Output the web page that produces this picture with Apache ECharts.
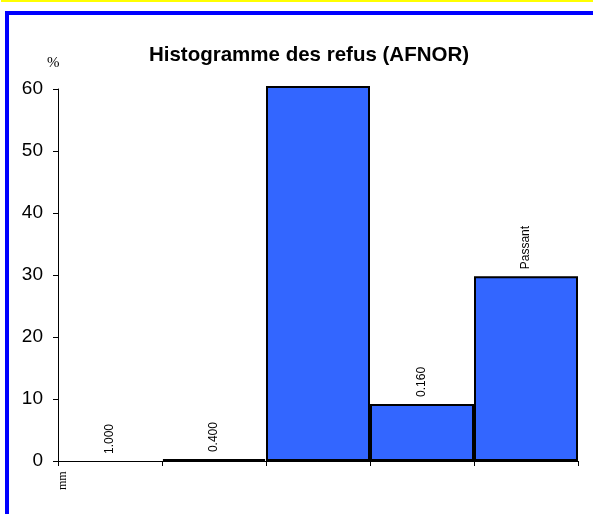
<!DOCTYPE html>
<html>
<head>
<meta charset="utf-8">
<script src="https://cdn.jsdelivr.net/npm/echarts@6/dist/echarts.min.js"></script>
<style>
html,body{margin:0;padding:0;background:#fff;}
#c{width:593px;height:514px;}
</style>
</head>
<body>
<div id="c"></div>
<script>
const categories = ['1.000', '0.400', '0.315', '0.160', 'Passant'];
const showLabel = [true, true, false, true, true];
const values = [0, 0.3, 60.5, 9.2, 29.8];
const yTicks = [0, 10, 20, 30, 40, 50, 60];

const chart = echarts.init(document.getElementById('c'));
const data = values.map((v, i) => ({
  value: v,
  itemStyle: v === 0 ? { borderWidth: 0 } : {},
  label: { show: showLabel[i] }
}));
chart.setOption({
  animation: false,
  backgroundColor: '#fff',
  title: {
    text: 'Histogramme des refus (AFNOR)',
    left: 304, top: 40, textAlign: 'center',
    textStyle: { fontFamily: 'Liberation Sans', fontSize: 20.5, fontWeight: 'bold', color: '#000' }
  },
  graphic: [
    { type: 'rect', shape: { x: 1, y: 0, width: 592, height: 2 }, style: { fill: '#ffff00' } },
    { type: 'rect', shape: { x: 5, y: 11, width: 588, height: 4 }, style: { fill: '#0000ff' } },
    { type: 'rect', shape: { x: 5, y: 11, width: 4, height: 503 }, style: { fill: '#0000ff' } },
    { type: 'text', left: 47, top: 56, style: { text: '%', font: '15px "Liberation Serif"', fill: '#000' } },
    { type: 'text', x: 57, y: 490, rotation: Math.PI / 2, style: { text: 'mm', font: '12px "Liberation Serif"', fill: '#000', textAlign: 'left', textVerticalAlign: 'top' } }
  ],
  grid: { left: 58, right: 15, top: 89, bottom: 53 },
  xAxis: {
    type: 'category', data: categories,
    axisLine: { lineStyle: { color: '#000', width: 1 } },
    axisTick: { show: true, length: 5, lineStyle: { color: '#000' }, alignWithLabel: false },
    axisLabel: { show: false },
    splitLine: { show: false }
  },
  yAxis: {
    type: 'value', min: 0, max: 60, interval: 10,
    axisLine: { show: true, lineStyle: { color: '#000', width: 1 } },
    axisTick: { show: true, length: 5, lineStyle: { color: '#000' } },
    axisLabel: { fontFamily: 'Liberation Sans', fontSize: 19, color: '#000', margin: 15,
      formatter: v => yTicks.includes(v) ? String(v) : '' },
    splitLine: { show: false }
  },
  series: [{
    type: 'bar', data: data, clip: false,
    barCategoryGap: '0%',
    itemStyle: { color: '#3366ff', borderColor: '#000', borderWidth: 2 },
    label: {
      show: true, position: 'top', rotate: 90, distance: 7,
      align: 'left', verticalAlign: 'middle',
      formatter: p => categories[p.dataIndex],
      fontFamily: 'Liberation Sans', fontSize: 12, color: '#000'
    }
  }]
});
</script>
</body>
</html>
